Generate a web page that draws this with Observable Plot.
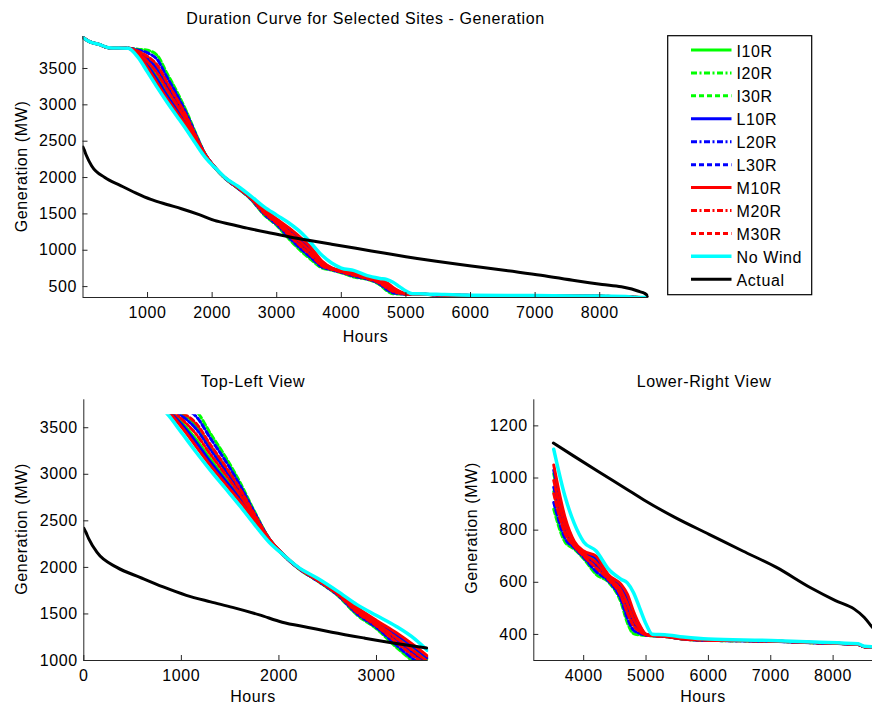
<!DOCTYPE html>
<html><head><meta charset="utf-8">
<script src="https://cdn.jsdelivr.net/npm/d3@7"></script>
<script src="https://cdn.jsdelivr.net/npm/@observablehq/plot@0.6"></script>
<style>
html,body{margin:0;padding:0;background:#fff;overflow:hidden;}
#wrap{position:relative;width:872px;height:706px;overflow:hidden;font-family:"Liberation Sans",Arial,sans-serif;}
#wrap svg{position:absolute;left:0;top:0;}
#wrap text{letter-spacing:0.6px;}
</style></head><body><div id="wrap"></div>
<script>
// ---- data ----
const hours = [1, 100, 250, 400, 700, 850, 1000, 1150, 1300, 1450, 1600, 1750, 1900, 2050, 2200, 2400, 2600, 2800, 3000, 3200, 3400, 3520, 3700, 3850, 4000, 4200, 4400, 4600, 4700, 4800, 4900, 5000, 5100, 5300, 5600, 6000, 7000, 7700, 8400, 8500, 8760];
const I10R = [3925, 3870, 3832, 3786, 3780, 3705, 3558, 3376, 3159, 2958, 2751, 2524, 2302, 2132, 1995, 1866, 1728, 1554, 1412, 1269, 1114, 1016, 831, 751, 714, 686, 622, 578, 533, 471, 428, 400, 396, 393, 383, 378, 375, 369, 362, 353, 350];
const I20R = [3925, 3870, 3832, 3786, 3780, 3735, 3654, 3528, 3297, 3074, 2833, 2562, 2306, 2130, 1991, 1858, 1714, 1522, 1376, 1207, 1042, 948, 793, 739, 702, 658, 611, 550, 489, 437, 413, 398, 395, 392, 382, 378, 374, 368, 361, 353, 350];
const I30R = [3925, 3870, 3832, 3786, 3780, 3765, 3750, 3680, 3435, 3190, 2915, 2600, 2310, 2128, 1988, 1850, 1700, 1490, 1340, 1145, 970, 880, 755, 727, 690, 630, 600, 522, 445, 403, 398, 396, 395, 392, 382, 377, 374, 368, 361, 353, 350];
const L10R = [3925, 3870, 3832, 3786, 3780, 3699, 3539, 3346, 3131, 2935, 2735, 2516, 2301, 2133, 1996, 1868, 1731, 1560, 1419, 1281, 1128, 1030, 839, 753, 716, 692, 625, 584, 542, 478, 431, 400, 397, 394, 384, 379, 375, 369, 362, 353, 350];
const L20R = [3925, 3870, 3832, 3786, 3780, 3728, 3630, 3490, 3263, 3045, 2813, 2553, 2305, 2130, 1992, 1860, 1718, 1530, 1385, 1222, 1060, 965, 803, 742, 705, 665, 614, 557, 500, 446, 417, 398, 396, 393, 383, 378, 374, 368, 361, 353, 350];
const L30R = [3925, 3870, 3832, 3786, 3780, 3754, 3714, 3623, 3383, 3147, 2884, 2586, 2309, 2128, 1990, 1853, 1705, 1502, 1354, 1168, 997, 906, 769, 732, 695, 641, 604, 532, 462, 416, 404, 397, 395, 392, 382, 377, 374, 368, 361, 353, 350];
const M10R = [3925, 3870, 3832, 3786, 3780, 3690, 3510, 3300, 3090, 2900, 2710, 2505, 2300, 2135, 1998, 1870, 1735, 1570, 1430, 1300, 1150, 1050, 850, 757, 720, 700, 628, 592, 555, 488, 435, 401, 397, 394, 384, 379, 375, 369, 362, 353, 350];
const M20R = [3925, 3870, 3832, 3786, 3780, 3716, 3594, 3433, 3211, 3002, 2782, 2538, 2304, 2131, 1994, 1863, 1723, 1542, 1399, 1246, 1087, 991, 817, 747, 710, 676, 618, 568, 517, 458, 422, 399, 396, 393, 383, 378, 375, 369, 362, 353, 350];
const M30R = [3925, 3870, 3832, 3786, 3780, 3739, 3666, 3547, 3314, 3089, 2843, 2567, 2307, 2129, 1993, 1857, 1712, 1518, 1372, 1199, 1033, 940, 788, 738, 701, 655, 610, 547, 484, 433, 411, 398, 395, 392, 382, 378, 374, 368, 361, 353, 350];
const noWind = [3925, 3870, 3832, 3786, 3778, 3655, 3450, 3240, 3040, 2850, 2660, 2460, 2270, 2130, 2000, 1880, 1745, 1600, 1483, 1368, 1225, 1110, 930, 825, 755, 720, 650, 612, 598, 560, 500, 440, 401, 399, 390, 382, 377, 371, 364, 355, 351];
const actualHours = [1, 20, 50, 136, 339, 576, 814, 1051, 1300, 1525, 1800, 2034, 2300, 2542, 2881, 3220, 3514, 3849, 4227, 4659, 5000, 5470, 6011, 6551, 7092, 7632, 8038, 8335, 8497, 8620, 8692, 8730, 8760];
const actualMW = [2420, 2380, 2310, 2160, 2000, 1893, 1790, 1700, 1630, 1571, 1490, 1411, 1355, 1304, 1240, 1180, 1134, 1083, 1026, 962, 911, 848, 784, 720, 657, 580, 530, 498, 466, 430, 409, 385, 350];

const seriesNames = ["I10R", "I20R", "I30R", "L10R", "L20R", "L30R", "M10R", "M20R", "M30R", "No Wind", "Actual"];
const seriesValues = [I10R, I20R, I30R, L10R, L20R, L30R, M10R, M20R, M30R, noWind, actualMW];
const seriesHours = [hours, hours, hours, hours, hours, hours, hours, hours, hours, hours, actualHours];

const topXTicks = [1000, 2000, 3000, 4000, 5000, 6000, 7000, 8000];
const topYTicks = [500, 1000, 1500, 2000, 2500, 3000, 3500];
const tlXTicks = [0, 1000, 2000, 3000];
const tlYTicks = [1000, 1500, 2000, 2500, 3000, 3500];
const lrXTicks = [4000, 5000, 6000, 7000, 8000];
const lrYTicks = [400, 600, 800, 1000, 1200];

// ---- styles ----
const colors = ["#00ff00", "#00ff00", "#00ff00", "#0000ff", "#0000ff", "#0000ff", "#ff0000", "#ff0000", "#ff0000", "#00ffff", "#000000"];
const dashes = [null, "6,2.5,2,2.5", "5,3", null, "6,2.5,2,2.5", "5,3", null, "6,2.5,2,2.5", "5,3", null, null];
const widths = [3, 3, 3, 3, 3, 3, 3, 3, 3, 3.5, 3];
const axisColor = "#262626";
const FONT = '"Liberation Sans", Arial, sans-serif';

const series = seriesNames.map((name, k) => ({
  name, color: colors[k], dash: dashes[k], w: widths[k],
  data: seriesHours[k].map((h, i) => ({h, mw: seriesValues[k][i]}))
}));

const wrap = document.getElementById("wrap");

function panel(cfg) {
  const H = 706;
  const fw = cfg.width - cfg.ml - cfg.mr;
  const fh = H - cfg.mt - cfg.mb;
  const marks = [];
  for (const s of series) {
    const data = s.data.filter(d => cfg.keep(d.h));
    marks.push(Plot.line(data, {
      x: "h", y: "mw", stroke: s.color, strokeWidth: s.w, curve: "monotone-x",
      strokeDasharray: s.dash || undefined, clip: cfg.clipFrame
    }));
  }
  marks.push(Plot.ruleX(cfg.xTicks, {x: d => d, insetTop: fh - 5, stroke: axisColor}));
  marks.push(Plot.ruleY(cfg.yTicks, {y: d => d, insetRight: fw - 5, stroke: axisColor}));
  marks.push(Plot.ruleX([cfg.xd[0]], {stroke: axisColor}));
  marks.push(Plot.ruleY([cfg.yd[0]], {stroke: axisColor}));
  marks.push(Plot.axisX(cfg.xTicks, {tickSize: 0, tickPadding: 9, tickFormat: d => String(d), label: null, fontSize: 16}));
  marks.push(Plot.axisY(cfg.yTicks, {tickSize: 0, tickPadding: 6, tickFormat: d => String(d), label: null, fontSize: 16}));
  const svg = Plot.plot({
    width: cfg.width, height: H,
    marginLeft: cfg.ml, marginRight: cfg.mr, marginTop: cfg.mt, marginBottom: cfg.mb,
    x: {domain: cfg.xd}, y: {domain: cfg.yd},
    style: {background: "transparent", maxWidth: "none", fontFamily: FONT, fontSize: "16px", color: "#000", overflow: "visible"},
    marks
  });
  return svg;
}

// Top panel
const topSvg = panel({width: 872, ml: 82.5, mr: 223.7, mt: 36, mb: 409, xd: [1, 8760], yd: [350, 3940],
  xTicks: topXTicks, yTicks: topYTicks, keep: () => true, clipFrame: true});
wrap.appendChild(topSvg);

// Top-left view
const tlSvg = panel({width: 872, ml: 83.3, mr: 444.3, mt: 399.3, mb: 46, xd: [0, 3530], yd: [1000, 3800],
  xTicks: tlXTicks, yTicks: tlYTicks, keep: h => h <= 3520, clipFrame: false});
wrap.appendChild(tlSvg);
{
  const xs = tlSvg.scale("x"), ys = tlSvg.scale("y");
  const x0 = xs.apply(0), x1 = xs.apply(3530), y0 = ys.apply(3645), y1 = ys.apply(1000);
  const s = d3.select(tlSvg);
  s.append("defs").append("clipPath").attr("id", "tlclip").append("rect")
    .attr("x", x0).attr("y", y0).attr("width", x1 - x0).attr("height", y1 - y0);
  s.selectAll('g[aria-label="line"]').attr("clip-path", "url(#tlclip)");
}

// Lower-right view
const lrSvg = panel({width: 880, ml: 533.3, mr: 0, mt: 399.3, mb: 46, xd: [3200, 8760], yd: [300, 1300],
  xTicks: lrXTicks, yTicks: lrYTicks, keep: h => h >= 3510, clipFrame: true});
wrap.appendChild(lrSvg);

// Text overlay and legend
const ov = d3.select(wrap).append("svg").attr("width", 872).attr("height", 706)
  .style("font-family", FONT).style("font-size", "16px");
const titles = [
  {t: "Duration Curve for Selected Sites - Generation", x: 365.5, y: 24},
  {t: "Top-Left View", x: 253, y: 387.3},
  {t: "Lower-Right View", x: 704, y: 387.3},
  {t: "Hours", x: 365.5, y: 341.7},
  {t: "Hours", x: 253, y: 701.5},
  {t: "Hours", x: 703, y: 701.5}
];
ov.selectAll("text.t").data(titles).join("text").attr("class", "t")
  .attr("x", d => d.x).attr("y", d => d.y).attr("text-anchor", "middle").attr("fill", "#000").text(d => d.t);
const ylabels = [{x: 26.5, y: 166.5}, {x: 26.5, y: 529}, {x: 476.5, y: 528}];
ov.selectAll("text.yl").data(ylabels).join("text").attr("class", "yl")
  .attr("transform", d => `translate(${d.x},${d.y}) rotate(-90)`).attr("text-anchor", "middle").attr("fill", "#000")
  .text("Generation (MW)");

const lg = ov.append("g");
lg.append("rect").attr("x", 667.7).attr("y", 35.7).attr("width", 144).attr("height", 259).attr("fill", "#fff").attr("stroke", "#000").attr("stroke-width", 1.2);
series.forEach((s, i) => {
  const y = 50 + i * 22.93;
  lg.append("line").attr("x1", 691).attr("x2", 731.5).attr("y1", y).attr("y2", y)
    .attr("stroke", s.color).attr("stroke-width", s.w).attr("stroke-dasharray", s.dash);
  lg.append("text").attr("x", 736.5).attr("y", y + 6.5).attr("fill", "#000").text(s.name);
});
</script></body></html>
